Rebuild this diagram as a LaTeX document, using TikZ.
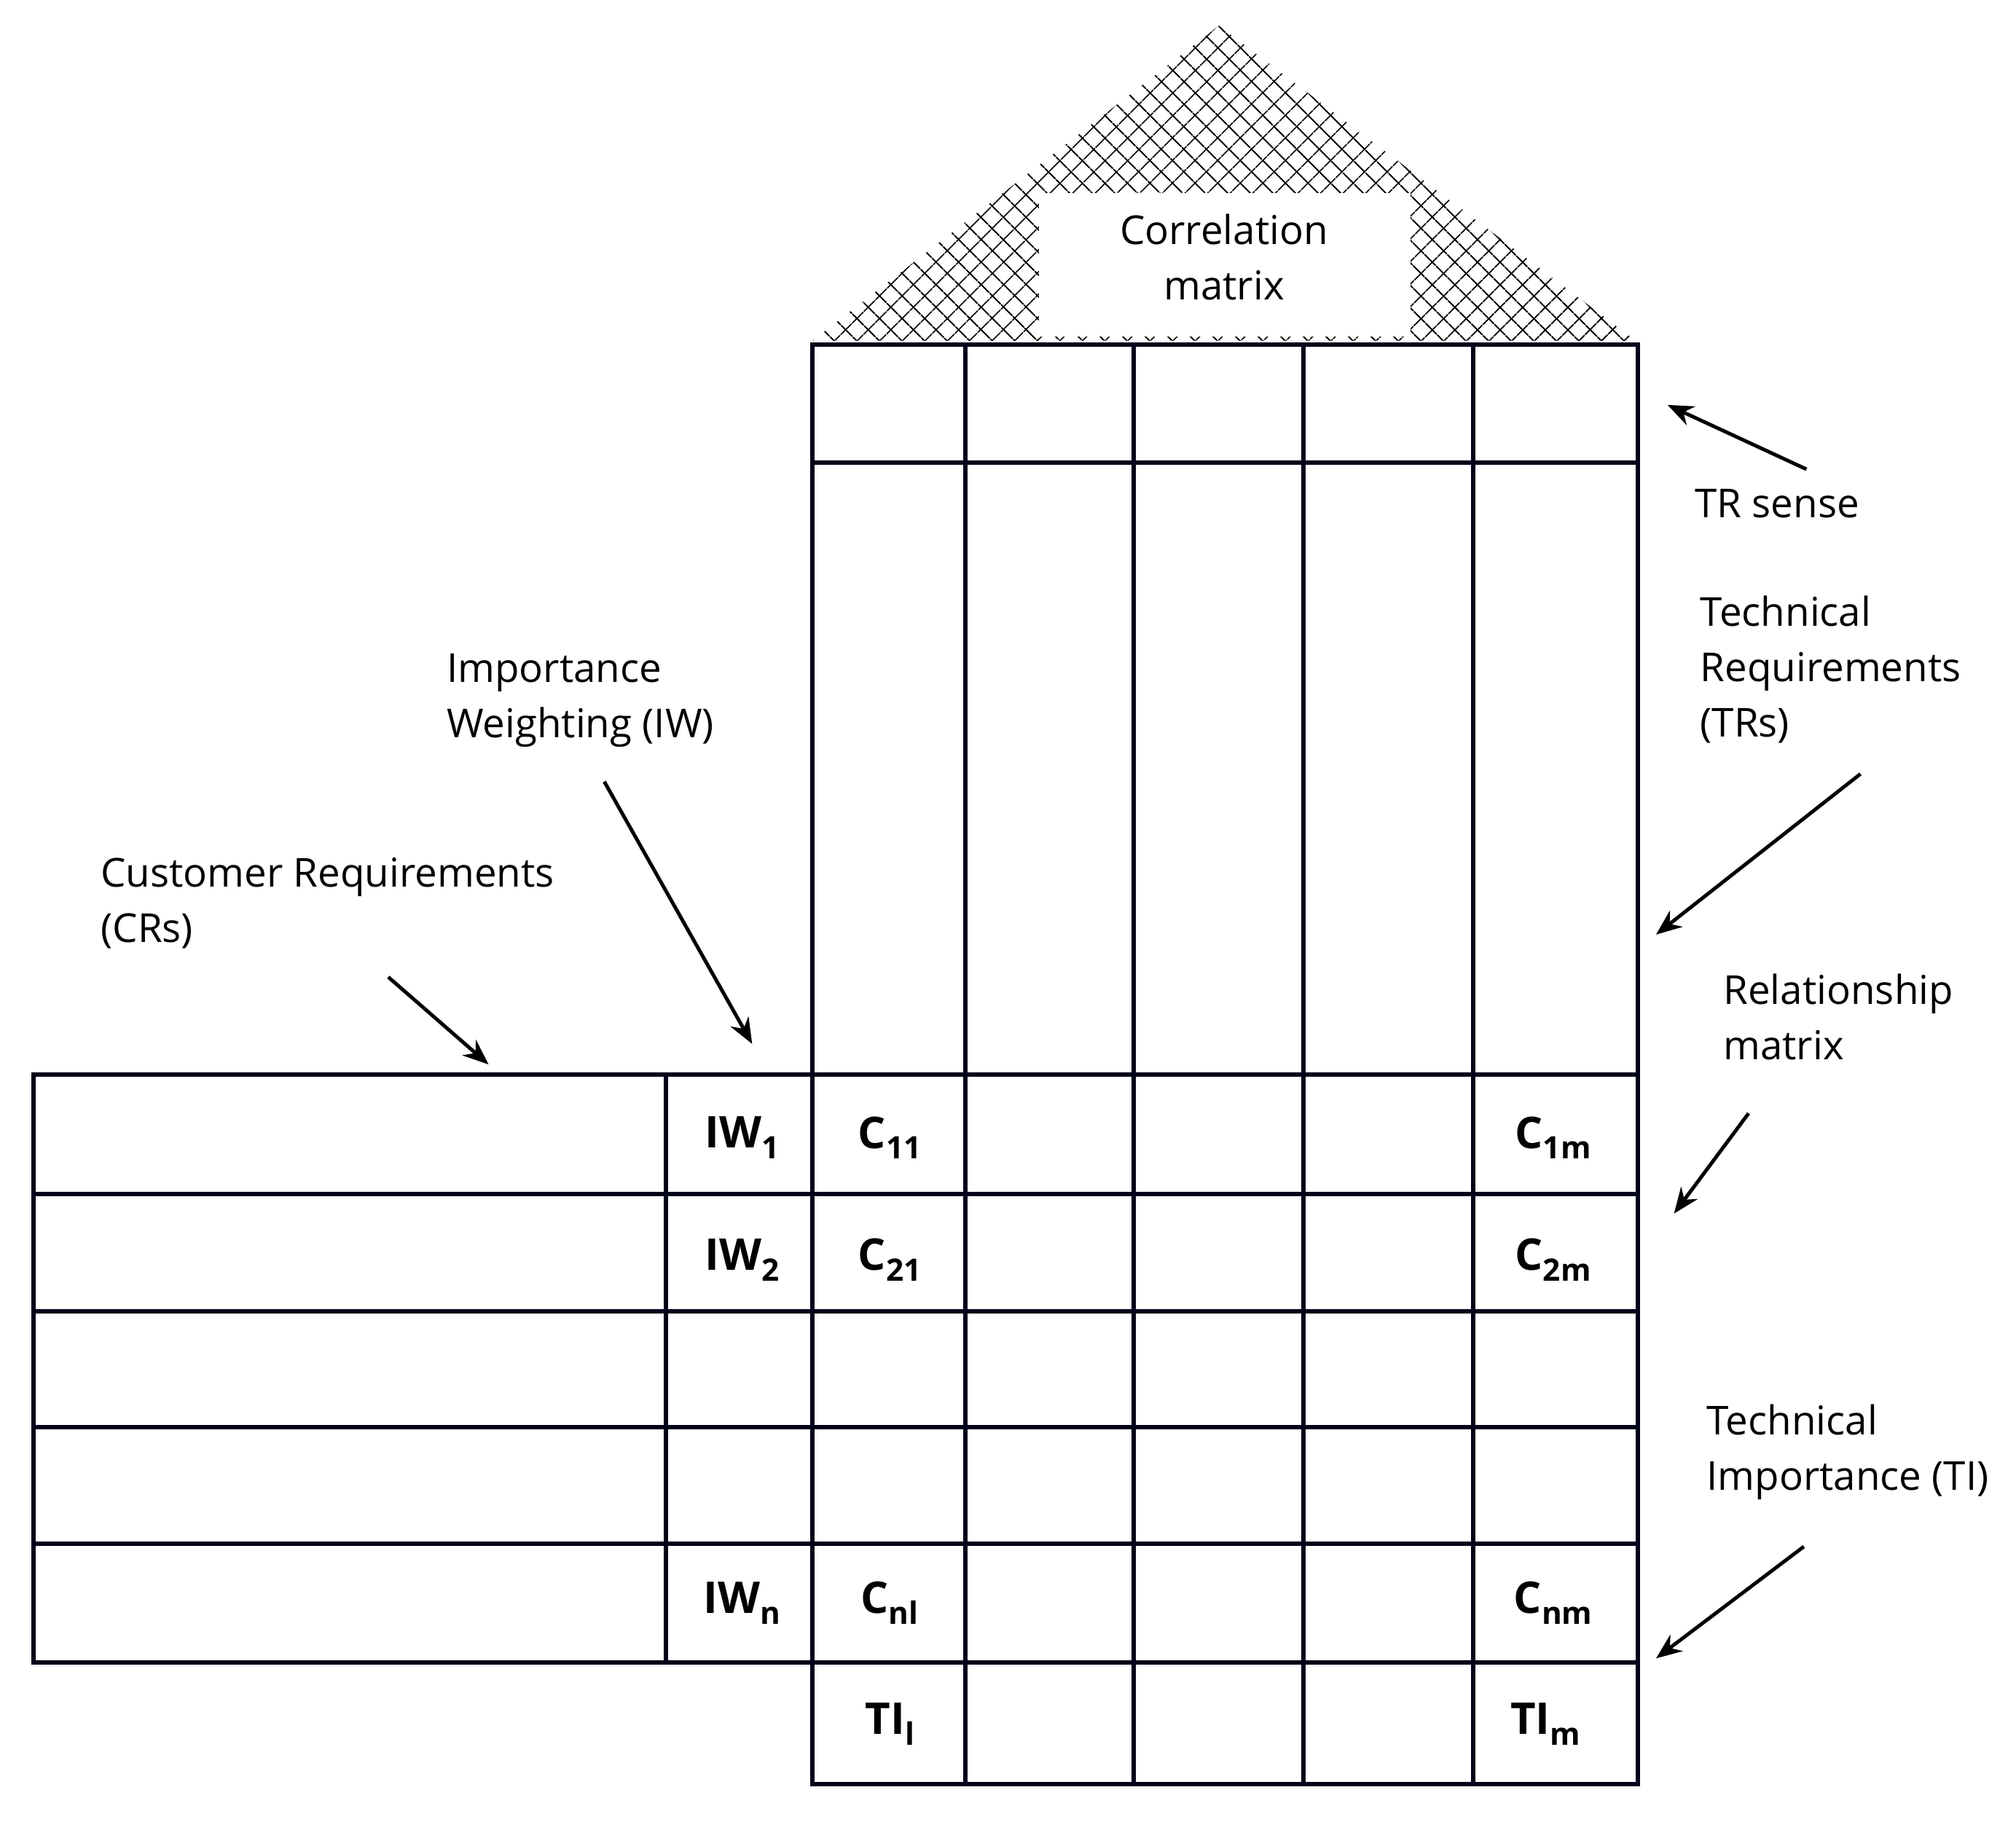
\documentclass[tikz,border=0pt]{standalone}
\usepackage{fontspec}
\setmainfont{Open Sans}
\usetikzlibrary{patterns.meta,arrows.meta}
\newcommand\sbx[1]{\raisebox{-0.45ex}{\fontsize{12}{12}\selectfont\bfseries #1}}
\begin{document}
\begin{tikzpicture}[x=0.5pt,y=-0.5pt,
  grid/.style={line width=1.7pt,draw=black!90!blue},
  lab/.style={font=\fontsize{15.5}{21.5}\selectfont,align=left,anchor=north west,inner sep=0pt},
  cell/.style={font=\fontsize{17}{18}\selectfont\bfseries,inner sep=0pt},
  arr/.style={line width=1.4pt,-{Stealth[length=10pt,width=8pt]}}]
\useasboundingbox (0,0) rectangle (1568,1417);
% roof
\fill[pattern={Lines[angle=45,distance=6.5pt,line width=0.6pt]}] (632,265)--(948,20)--(1272,265)--cycle;
\fill[pattern={Lines[angle=-45,distance=6.5pt,line width=0.6pt]}] (632,265)--(948,20)--(1272,265)--cycle;
\fill[white] (808,150) rectangle (1097,262);
\node[font=\fontsize{15.5}{21.5}\selectfont,align=center] (corr) at (952,200) {Correlation\\matrix};
% top part
\draw[grid] (632,268) rectangle (1274,1388);
\foreach \x in {751,882,1014,1146} \draw[grid] (\x,268)--(\x,1388);
\draw[grid] (632,360)--(1274,360);
% rows
\draw[grid] (26,836) rectangle (632,1293);
\draw[grid] (518,836)--(518,1293);
\foreach \y in {836,929,1020,1110,1201,1293} \draw[grid] (26,\y)--(1274,\y);
% cell texts
\node[cell] (iw1) at (577,885) {IW\sbx{1}};
\node[cell] (iw2) at (577,980) {IW\sbx{2}};
\node[cell] (iwn) at (577,1247) {IW\sbx{n}};
\node[cell] (c11) at (692,885) {C\sbx{11}};
\node[cell] (c21) at (692,980) {C\sbx{21}};
\node[cell] (cnl) at (692,1247) {C\sbx{nl}};
\node[cell] (c1m) at (1208,885) {C\sbx{1m}};
\node[cell] (c2m) at (1208,980) {C\sbx{2m}};
\node[cell] (cnm) at (1208,1247) {C\sbx{nm}};
\node[cell] (til) at (692,1341) {TI\sbx{l}};
\node[cell] (tim) at (1202,1341) {TI\sbx{m}};
% labels
\node[lab] (trs) at (1318,380) {TR sense};
\node[lab] (tr) at (1322,463) {Technical\\Requirements\\(TRs)};
\node[lab] (rm) at (1340,757) {Relationship\\matrix};
\node[lab] (ti) at (1327,1092) {Technical\\Importance (TI)};
\node[lab] (iw) at (347,508) {Importance\\Weighting (IW)};
\node[lab] (cr) at (78,667) {Customer Requirements\\(CRs)};
% arrows
\coordinate (a1) at (1405,365); \coordinate (b1) at (1297,315);
\coordinate (a2) at (1447,602); \coordinate (b2) at (1288,727);
\coordinate (a3) at (1360,866); \coordinate (b3) at (1302,944);
\coordinate (a4) at (1403,1203); \coordinate (b4) at (1288,1290);
\coordinate (a5) at (470,608); \coordinate (b5) at (585,812);
\coordinate (a6) at (302,760); \coordinate (b6) at (380,828);
\foreach \i in {1,...,6} \draw[arr] (a\i)--(b\i);
\end{tikzpicture}
\end{document}
